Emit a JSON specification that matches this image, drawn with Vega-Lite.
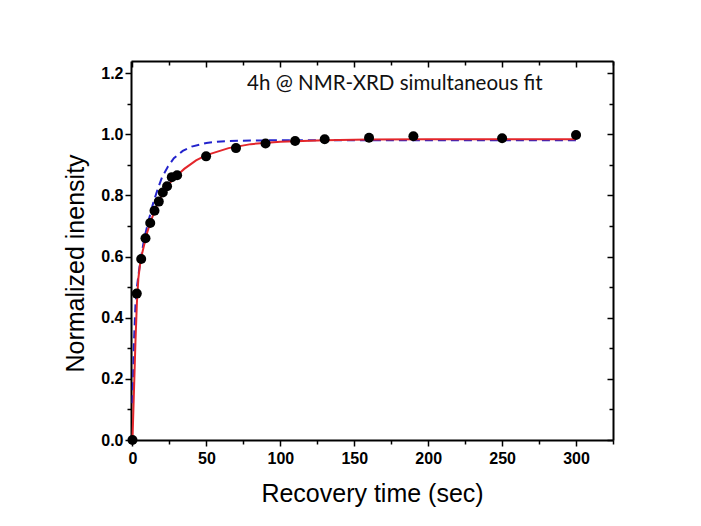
{
  "$schema": "https://vega.github.io/schema/vega-lite/v6.json",
  "autosize": "none",
  "width": 482,
  "height": 379,
  "padding": {"left": 131, "top": 61, "right": 88, "bottom": 86},
  "background": "white",
  "config": {
    "view": {"stroke": null},
    "axis": {
      "grid": false,
      "domainColor": "black",
      "domainWidth": 2,
      "tickColor": "black",
      "tickWidth": 1.5,
      "labelFont": "Liberation Sans",
      "labelFontWeight": "bold",
      "labelFontSize": 16,
      "labelColor": "black",
      "titleFont": "Liberation Sans",
      "titleFontWeight": "normal",
      "titleFontSize": 25,
      "titleColor": "black"
    }
  },
  "datasets": {
    "main": [
      {"series": "data", "t": 0, "v": 0},
      {"series": "data", "t": 2.9, "v": 0.479},
      {"series": "data", "t": 5.9, "v": 0.592},
      {"series": "data", "t": 8.8, "v": 0.66},
      {"series": "data", "t": 12, "v": 0.71},
      {"series": "data", "t": 14.9, "v": 0.75},
      {"series": "data", "t": 17.8, "v": 0.78},
      {"series": "data", "t": 20.5, "v": 0.81},
      {"series": "data", "t": 23.4, "v": 0.83},
      {"series": "data", "t": 26.6, "v": 0.86},
      {"series": "data", "t": 30.2, "v": 0.866},
      {"series": "data", "t": 49.8, "v": 0.928},
      {"series": "data", "t": 70, "v": 0.955},
      {"series": "data", "t": 90, "v": 0.97},
      {"series": "data", "t": 110, "v": 0.978},
      {"series": "data", "t": 130, "v": 0.984},
      {"series": "data", "t": 160, "v": 0.989},
      {"series": "data", "t": 190, "v": 0.994},
      {"series": "data", "t": 250, "v": 0.987},
      {"series": "data", "t": 300, "v": 0.998},
      {"series": "red", "t": 0, "v": 0},
      {"series": "red", "t": 1, "v": 0.16},
      {"series": "red", "t": 2, "v": 0.32},
      {"series": "red", "t": 3, "v": 0.45},
      {"series": "red", "t": 4, "v": 0.53},
      {"series": "red", "t": 5, "v": 0.57},
      {"series": "red", "t": 6, "v": 0.6},
      {"series": "red", "t": 8, "v": 0.64},
      {"series": "red", "t": 10, "v": 0.68},
      {"series": "red", "t": 12, "v": 0.71},
      {"series": "red", "t": 15, "v": 0.75},
      {"series": "red", "t": 18, "v": 0.785},
      {"series": "red", "t": 21, "v": 0.81},
      {"series": "red", "t": 25, "v": 0.84},
      {"series": "red", "t": 30, "v": 0.865},
      {"series": "red", "t": 35, "v": 0.887},
      {"series": "red", "t": 43, "v": 0.915},
      {"series": "red", "t": 50, "v": 0.932},
      {"series": "red", "t": 65, "v": 0.955},
      {"series": "red", "t": 80, "v": 0.968},
      {"series": "red", "t": 100, "v": 0.976},
      {"series": "red", "t": 130, "v": 0.981},
      {"series": "red", "t": 160, "v": 0.983},
      {"series": "red", "t": 200, "v": 0.984},
      {"series": "red", "t": 300, "v": 0.984},
      {"series": "blue", "t": 0, "v": 0.12},
      {"series": "blue", "t": 1, "v": 0.32},
      {"series": "blue", "t": 2, "v": 0.44},
      {"series": "blue", "t": 3, "v": 0.5},
      {"series": "blue", "t": 5, "v": 0.575},
      {"series": "blue", "t": 8, "v": 0.66},
      {"series": "blue", "t": 11, "v": 0.72},
      {"series": "blue", "t": 14, "v": 0.775},
      {"series": "blue", "t": 17, "v": 0.82},
      {"series": "blue", "t": 20, "v": 0.86},
      {"series": "blue", "t": 24, "v": 0.895},
      {"series": "blue", "t": 28, "v": 0.922},
      {"series": "blue", "t": 34, "v": 0.946},
      {"series": "blue", "t": 40, "v": 0.96},
      {"series": "blue", "t": 50, "v": 0.972},
      {"series": "blue", "t": 60, "v": 0.977},
      {"series": "blue", "t": 80, "v": 0.98},
      {"series": "blue", "t": 120, "v": 0.981},
      {"series": "blue", "t": 300, "v": 0.981}
    ],
    "note": [
      {"t": 77.5, "v": 1.165, "label": "4h @ NMR-XRD simultaneous  fit"}
    ]
  },
  "layer": [
    {
      "data": {"name": "main"},
      "encoding": {
        "x": {
          "field": "t", "type": "quantitative",
          "scale": {"domain": [-1, 325], "nice": false, "zero": false},
          "axis": {
            "orient": "bottom",
            "title": "Recovery time (sec)",
            "values": [0, 25, 50, 75, 100, 125, 150, 175, 200, 225, 250, 275, 300, 325],
            "labelExpr": "datum.value % 50 === 0 ? datum.value : ''",
            "tickSize": {"condition": {"test": "datum.value % 50 === 0", "value": 6}, "value": 4},
            "labelPadding": 4,
            "labelFlush": false,
            "labelOverlap": false,
            "titleBaseline": "alphabetic",
            "titleY": 61
          }
        },
        "y": {
          "field": "v", "type": "quantitative",
          "scale": {"domain": [0, 1.24], "nice": false, "zero": false},
          "axis": {
            "orient": "left",
            "title": "Normalized inensity",
            "values": [0, 0.1, 0.2, 0.3, 0.4, 0.5, 0.6, 0.7, 0.8, 0.9, 1.0, 1.1, 1.2],
            "labelExpr": "round(datum.value * 10) % 2 === 0 ? format(datum.value, '.1f') : ''",
            "tickSize": {"condition": {"test": "round(datum.value * 10) % 2 === 0", "value": 6}, "value": 4},
            "labelPadding": 2,
            "labelFlush": false,
            "labelOverlap": false,
            "titleBaseline": "alphabetic",
            "titleAngle": -90,
            "titleX": -48,
            "titleY": 202
          }
        }
      },
      "layer": [
        {
          "transform": [{"filter": "datum.series === 'blue'"}],
          "mark": {"type": "line", "color": "#2323cc", "strokeWidth": 2, "strokeDash": [8, 5], "clip": true}
        },
        {
          "transform": [{"filter": "datum.series === 'red'"}],
          "mark": {"type": "line", "color": "#e3262b", "strokeWidth": 2, "clip": true}
        },
        {
          "transform": [{"filter": "datum.series === 'data'"}],
          "mark": {"type": "point", "filled": true, "color": "black", "opacity": 1, "size": 100}
        },
        {
          "data": {"name": "note"},
          "mark": {"type": "text", "align": "left", "baseline": "middle", "font": "Lato", "fontSize": 20.5, "color": "#111111"},
          "encoding": {"text": {"field": "label"}}
        }
      ]
    },
    {
      "data": {"name": "main"},
      "mark": {"type": "point", "opacity": 0},
      "encoding": {
        "x": {
          "field": "t", "type": "quantitative",
          "scale": {"domain": [-1, 325], "nice": false, "zero": false},
          "axis": {
            "orient": "top",
            "title": null,
            "labels": false,
            "values": [0, 25, 50, 75, 100, 125, 150, 175, 200, 225, 250, 275, 300, 325],
            "tickSize": {"condition": {"test": "datum.value % 50 === 0", "value": -6}, "value": -4}
          }
        },
        "y": {
          "field": "v", "type": "quantitative",
          "scale": {"domain": [0, 1.24], "nice": false, "zero": false},
          "axis": {
            "orient": "right",
            "title": null,
            "labels": false,
            "values": [0, 0.1, 0.2, 0.3, 0.4, 0.5, 0.6, 0.7, 0.8, 0.9, 1.0, 1.1, 1.2],
            "tickSize": {"condition": {"test": "round(datum.value * 10) % 2 === 0", "value": -6}, "value": -4}
          }
        }
      }
    }
  ],
  "resolve": {"scale": {"x": "independent", "y": "independent"}}
}
